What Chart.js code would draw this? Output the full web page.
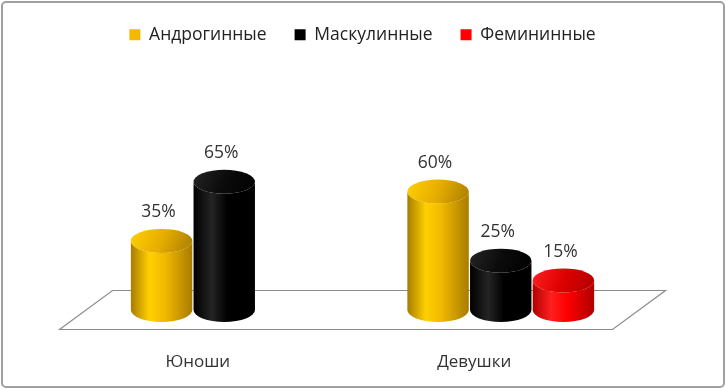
<!DOCTYPE html>
<html>
<head>
<meta charset="utf-8">
<script src="https://cdn.jsdelivr.net/npm/chart.js@4.4.1/dist/chart.umd.min.js"></script>
<style>
  html, body { margin: 0; padding: 0; background: #fff; }
  #wrap { width: 726px; height: 389px; }
</style>
</head>
<body>
<div id="wrap"><canvas id="c" width="726" height="389"></canvas></div>
<script>
const categories = ['Юноши', 'Девушки'];
const seriesNames = ['Андрогинные', 'Маскулинные', 'Фемининные'];
const androgynous = [35, 60];
const masculine = [65, 25];
const feminine = [null, 15];

// цвета цилиндров: край, середина, верх
const palette = [
  { base: '#f2b900', edge: '#a87c00', mid: '#ffd000', top: '#e6ad00' },
  { base: '#000000', edge: '#000000', mid: '#242424', top: '#0b0b0b' },
  { base: '#ff0000', edge: '#b00000', mid: '#ff2020', top: '#dd0000' }
];

const DEPTH_X = 26.5;   // сдвиг задней грани пола
const DEPTH_Y = 19.5;
const RY = 12;          // полуось эллипса

function drawCylinder(ctx, x, w, top, base, c) {
  const rx = w / 2;
  const left = x - rx, right = x + rx;
  let g = ctx.createLinearGradient(left, 0, right, 0);
  g.addColorStop(0, c.edge);
  g.addColorStop(0.3, c.mid);
  g.addColorStop(0.55, c.base);
  g.addColorStop(1, c.edge);
  ctx.beginPath();
  ctx.moveTo(left, top);
  ctx.lineTo(left, base);
  ctx.ellipse(x, base, rx, RY, 0, Math.PI, 0, true);
  ctx.lineTo(right, top);
  ctx.ellipse(x, top, rx, RY, 0, 0, Math.PI, false);
  ctx.closePath();
  ctx.fillStyle = g;
  ctx.fill();

  let gt = ctx.createLinearGradient(left, top - RY, right, top + RY);
  gt.addColorStop(0, c.mid);
  gt.addColorStop(0.5, c.top);
  gt.addColorStop(1, c.edge);
  ctx.beginPath();
  ctx.ellipse(x, top, rx, RY, 0, 0, Math.PI * 2);
  ctx.fillStyle = gt;
  ctx.fill();
}

const cylinders = {
  id: 'cylinders',
  beforeDraw(chart) {
    const ctx = chart.ctx;
    ctx.save();
    ctx.fillStyle = '#fff';
    ctx.fillRect(0, 0, chart.width, chart.height);
    ctx.strokeStyle = '#a0a0a0';
    ctx.lineWidth = 2;
    ctx.beginPath();
    ctx.roundRect(2, 2, chart.width - 4, chart.height - 4, 4);
    ctx.stroke();
    ctx.restore();
  },
  beforeDatasetsDraw(chart) {
    const ctx = chart.ctx;
    const area = chart.chartArea;
    const y0 = chart.scales.y.getPixelForValue(0);
    ctx.save();
    // пол
    ctx.beginPath();
    ctx.moveTo(area.left - DEPTH_X, y0 + DEPTH_Y);
    ctx.lineTo(area.left + DEPTH_X, y0 - DEPTH_Y);
    ctx.lineTo(area.right + DEPTH_X, y0 - DEPTH_Y);
    ctx.lineTo(area.right - DEPTH_X, y0 + DEPTH_Y);
    ctx.closePath();
    ctx.fillStyle = '#ffffff';
    ctx.fill();
    ctx.strokeStyle = '#8c8c8c';
    ctx.lineWidth = 1.2;
    ctx.stroke();

    chart.data.datasets.forEach((ds, di) => {
      const meta = chart.getDatasetMeta(di);
      meta.data.forEach((bar, i) => {
        if (ds.data[i] == null) return;
        drawCylinder(ctx, bar.x, bar.width, bar.y, bar.base, palette[di]);
      });
    });

    ctx.font = '17.5px "Open Sans", sans-serif';
    ctx.fillStyle = '#333';
    ctx.textAlign = 'center';
    ctx.textBaseline = 'bottom';
    chart.data.datasets.forEach((ds, di) => {
      const meta = chart.getDatasetMeta(di);
      meta.data.forEach((bar, i) => {
        if (ds.data[i] == null) return;
        ctx.fillText(ds.data[i] + '%', bar.x - 3, bar.y - RY - 8);
      });
    });
    ctx.restore();
    return false;
  }
};

new Chart(document.getElementById('c'), {
  type: 'bar',
  data: {
    labels: categories,
    datasets: [
      { label: seriesNames[0], data: androgynous, backgroundColor: '#f5b800' },
      { label: seriesNames[1], data: masculine, backgroundColor: '#000000' },
      { label: seriesNames[2], data: feminine, backgroundColor: '#ff0000' }
    ]
  },
  options: {
    responsive: false,
    animation: false,
    categoryPercentage: 0.68,
    barPercentage: 0.98,
    layout: { padding: { top: -2, left: 86, right: 87, bottom: 0 } },
    plugins: {
      tooltip: { enabled: false },
      legend: {
        position: 'top',
        labels: {
          boxWidth: 11,
          boxHeight: 11,
          padding: 28,
          color: '#222',
          font: { family: '"Open Sans", sans-serif', size: 17.5 }
        }
      }
    },
    scales: {
      x: {
        grid: { display: false },
        border: { display: false },
        afterFit: (scale) => { scale.height = 79; },
        ticks: {
          labelOffset: -DEPTH_X,
          padding: 34,
          color: '#333',
          font: { family: '"Open Sans", sans-serif', size: 17 }
        }
      },
      y: {
        display: false,
        min: 0,
        max: 130
      }
    }
  },
  plugins: [cylinders]
});
</script>
</body>
</html>
